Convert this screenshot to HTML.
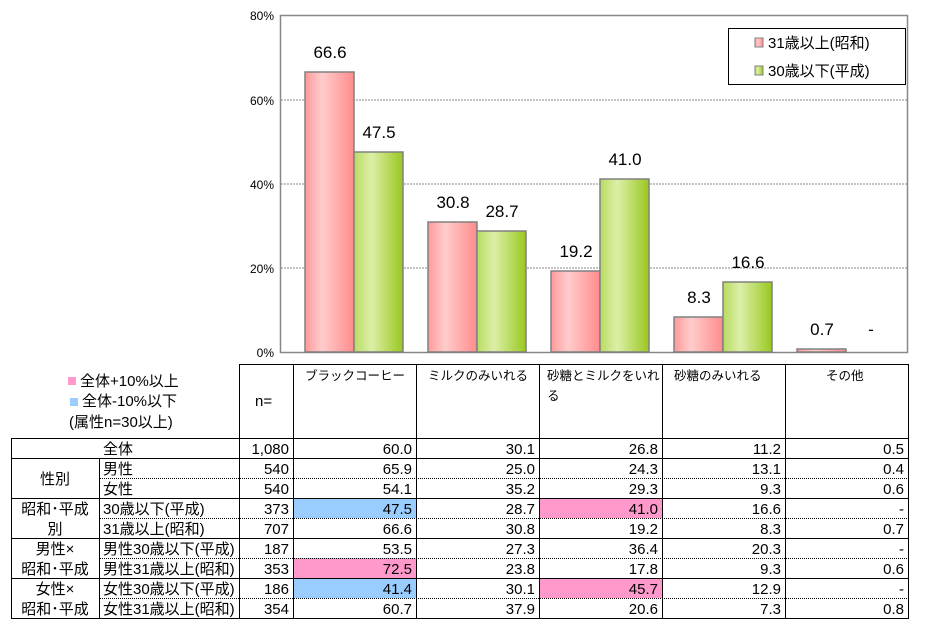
<!DOCTYPE html>
<html><head><meta charset="utf-8"><style>body{margin:0;background:#fff}svg{display:block;font-family:"Liberation Sans","Noto Sans CJK JP",sans-serif}</style></head><body>
<svg width="930" height="630" viewBox="0 0 930 630" xmlns="http://www.w3.org/2000/svg">
<defs>
<linearGradient id="pk" x1="0" x2="1"><stop offset="0" stop-color="#ff9a9a"/><stop offset="0.35" stop-color="#ffcccc"/><stop offset="1" stop-color="#ff8c8c"/></linearGradient>
<linearGradient id="gr" x1="0" x2="1"><stop offset="0" stop-color="#b8dc60"/><stop offset="0.35" stop-color="#dcefa8"/><stop offset="1" stop-color="#99c820"/></linearGradient>
</defs>
<g stroke="#888" stroke-dasharray="2,1" stroke-width="1">
<line x1="281" y1="100" x2="907" y2="100"/><line x1="281" y1="184" x2="907" y2="184"/><line x1="281" y1="268" x2="907" y2="268"/>
</g>
<rect x="280.5" y="15.5" width="627" height="337" fill="none" stroke="#888" stroke-width="1.5"/>
<g font-size="12" fill="#000" text-anchor="end">
<text x="274" y="20">80%</text><text x="274" y="105">60%</text><text x="274" y="189">40%</text><text x="274" y="273">20%</text><text x="274" y="357">0%</text>
</g>
<g stroke="#808080" stroke-width="1.5">
<rect x="305" y="72" width="49" height="280" fill="url(#pk)"/>
<rect x="354" y="152" width="49" height="200" fill="url(#gr)"/>
<rect x="428" y="222" width="49" height="130" fill="url(#pk)"/>
<rect x="477" y="231" width="49" height="121" fill="url(#gr)"/>
<rect x="551" y="271" width="49" height="81" fill="url(#pk)"/>
<rect x="600" y="179" width="49" height="173" fill="url(#gr)"/>
<rect x="674" y="317" width="49" height="35" fill="url(#pk)"/>
<rect x="723" y="282" width="49" height="70" fill="url(#gr)"/>
<rect x="797" y="349" width="49" height="3" fill="url(#pk)"/>
</g>
<g font-size="17" text-anchor="middle" fill="#000">
<text x="330" y="58">66.6</text><text x="379" y="138">47.5</text>
<text x="453" y="208">30.8</text><text x="502" y="217">28.7</text>
<text x="576" y="257">19.2</text><text x="625" y="165">41.0</text>
<text x="699" y="303">8.3</text><text x="748" y="268">16.6</text>
<text x="822" y="335">0.7</text><text x="871" y="335">-</text>
</g>
<rect x="728.5" y="28.5" width="177" height="56" fill="#fff" stroke="#000"/>
<rect x="755" y="38" width="8" height="9" fill="url(#pk)" stroke="#808080"/>
<rect x="755" y="66" width="8" height="9" fill="url(#gr)" stroke="#808080"/>
<g font-size="15"><text x="768" y="48">31歳以上(昭和)</text><text x="768" y="76">30歳以下(平成)</text></g>
<rect x="68" y="377" width="8" height="8" fill="#ff99cc"/>
<rect x="70" y="398" width="8" height="8" fill="#99ccff"/>
<g font-size="15"><text x="80" y="386">全体+10%以上</text><text x="82" y="406">全体-10%以下</text><text x="69" y="427">(属性n=30以上)</text></g>
<rect x="293" y="498" width="123" height="20" fill="#99ccff"/>
<rect x="293" y="558" width="123" height="20" fill="#ff99cc"/>
<rect x="293" y="578" width="123" height="20" fill="#99ccff"/>
<rect x="539" y="498" width="123" height="20" fill="#ff99cc"/>
<rect x="539" y="578" width="123" height="20" fill="#ff99cc"/>
<g stroke="#000" stroke-width="1" fill="none">
<rect x="239.5" y="364.5" width="669" height="74"/>
<line x1="293.5" y1="364" x2="293.5" y2="618"/><line x1="416.5" y1="364" x2="416.5" y2="618"/><line x1="539.5" y1="364" x2="539.5" y2="618"/><line x1="662.5" y1="364" x2="662.5" y2="618"/><line x1="785.5" y1="364" x2="785.5" y2="618"/><line x1="908.5" y1="364" x2="908.5" y2="618"/>
<line x1="239.5" y1="438" x2="239.5" y2="618"/>
<line x1="11.5" y1="438" x2="11.5" y2="618"/>
<line x1="99.5" y1="458" x2="99.5" y2="618"/>
<line x1="11" y1="438.5" x2="909" y2="438.5"/><line x1="11" y1="458.5" x2="909" y2="458.5"/><line x1="11" y1="498.5" x2="909" y2="498.5"/><line x1="11" y1="538.5" x2="909" y2="538.5"/><line x1="11" y1="578.5" x2="909" y2="578.5"/><line x1="11" y1="618.5" x2="909" y2="618.5"/>
</g>
<g stroke="#000" stroke-width="1" stroke-dasharray="1,1">
<line x1="100" y1="478.5" x2="908" y2="478.5"/><line x1="100" y1="518.5" x2="908" y2="518.5"/><line x1="100" y1="558.5" x2="908" y2="558.5"/><line x1="100" y1="598.5" x2="908" y2="598.5"/>
</g>
<g font-size="12.5">
<text x="305" y="380">ブラックコーヒー</text><text x="428" y="380">ミルクのみいれる</text><text x="547" y="380">砂糖とミルクをいれ</text><text x="547" y="400">る</text><text x="674" y="380">砂糖のみいれる</text><text x="826" y="380">その他</text>
</g>
<g font-size="15">
<text x="255" y="406">n=</text>
<text x="118" y="454" text-anchor="middle">全体</text>
<text x="55" y="484" text-anchor="middle">性別</text>
<text x="55" y="514" text-anchor="middle">昭和･平成</text><text x="55" y="534" text-anchor="middle">別</text>
<text x="55" y="554" text-anchor="middle">男性×</text><text x="55" y="574" text-anchor="middle">昭和･平成</text>
<text x="55" y="594" text-anchor="middle">女性×</text><text x="55" y="614" text-anchor="middle">昭和･平成</text>
<text x="103" y="474">男性</text><text x="103" y="494">女性</text>
<text x="103" y="514">30歳以下(平成)</text><text x="103" y="534">31歳以上(昭和)</text>
<text x="103" y="554">男性30歳以下(平成)</text><text x="103" y="574">男性31歳以上(昭和)</text>
<text x="103" y="594">女性30歳以下(平成)</text><text x="103" y="614">女性31歳以上(昭和)</text>
</g>
<g font-size="15" text-anchor="end">
<g transform="translate(289,0)"><text y="454">1,080</text><text y="474">540</text><text y="494">540</text><text y="514">373</text><text y="534">707</text><text y="554">187</text><text y="574">353</text><text y="594">186</text><text y="614">354</text></g>
<g transform="translate(412,0)"><text y="454">60.0</text><text y="474">65.9</text><text y="494">54.1</text><text y="514">47.5</text><text y="534">66.6</text><text y="554">53.5</text><text y="574">72.5</text><text y="594">41.4</text><text y="614">60.7</text></g>
<g transform="translate(535,0)"><text y="454">30.1</text><text y="474">25.0</text><text y="494">35.2</text><text y="514">28.7</text><text y="534">30.8</text><text y="554">27.3</text><text y="574">23.8</text><text y="594">30.1</text><text y="614">37.9</text></g>
<g transform="translate(658,0)"><text y="454">26.8</text><text y="474">24.3</text><text y="494">29.3</text><text y="514">41.0</text><text y="534">19.2</text><text y="554">36.4</text><text y="574">17.8</text><text y="594">45.7</text><text y="614">20.6</text></g>
<g transform="translate(781,0)"><text y="454">11.2</text><text y="474">13.1</text><text y="494">9.3</text><text y="514">16.6</text><text y="534">8.3</text><text y="554">20.3</text><text y="574">9.3</text><text y="594">12.9</text><text y="614">7.3</text></g>
<g transform="translate(904,0)"><text y="454">0.5</text><text y="474">0.4</text><text y="494">0.6</text><text y="514">-</text><text y="534">0.7</text><text y="554">-</text><text y="574">0.6</text><text y="594">-</text><text y="614">0.8</text></g>
</g>
</svg>
</body></html>
